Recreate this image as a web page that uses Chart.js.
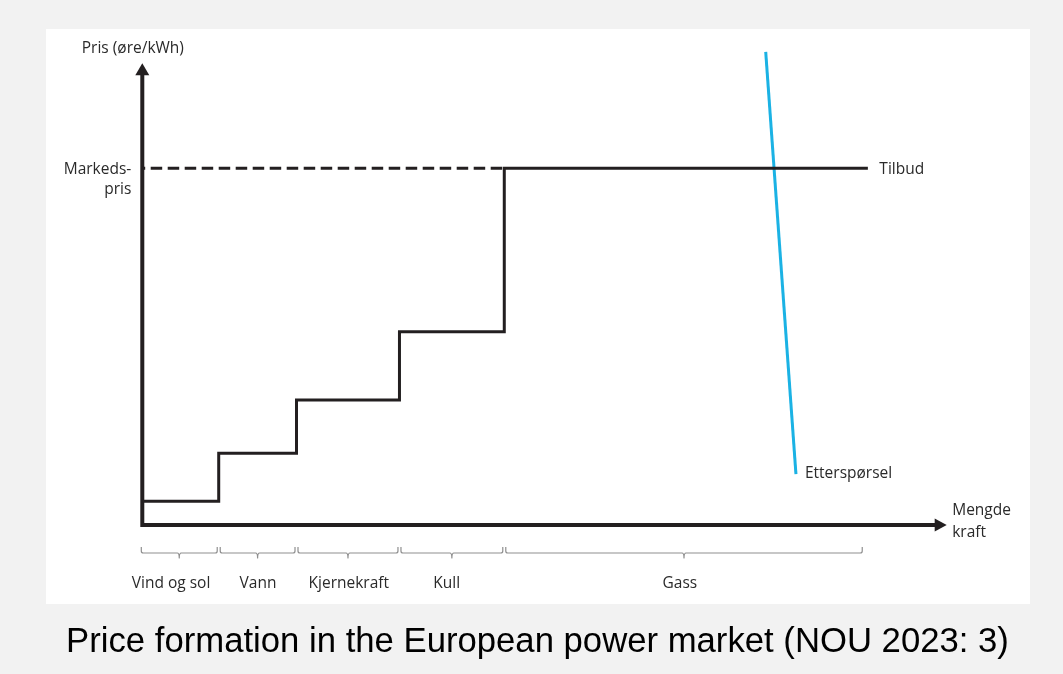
<!DOCTYPE html>
<html><head><meta charset="utf-8">
<script src="https://cdn.jsdelivr.net/npm/chart.js@4/dist/chart.umd.min.js"></script>
<style>
html,body{margin:0;padding:0;background:#f2f2f2;width:1063px;height:674px;overflow:hidden}
#panel{position:absolute;left:46px;top:29px;width:984px;height:575px;background:#fff}
#wrap{position:absolute;left:0;top:0;width:1063px;height:674px}
#caption{position:absolute;left:6px;width:1063px;top:620px;height:40px;line-height:40px;text-align:center;font-family:"Liberation Sans",Arial,sans-serif;font-size:34.7px;color:#000;white-space:nowrap}
</style></head><body>
<div id="panel"></div>
<div id="wrap"><canvas id="c" width="1063" height="674"></canvas></div>
<div id="caption">Price formation in the European power market (NOU 2023: 3)</div>
<script>
// ---- data (conceptual units: quantity 0..100, price 0..100) ----
const segments   = ["Vind og sol", "Vann", "Kjernekraft", "Kull", "Gass"];
const boundaries = [0, 9.5, 19.17, 31.97, 45.0, 89.5];   // capacity limits per technology
const prices     = [5.0, 15.1, 26.3, 40.7, 75.1];        // marginal cost per technology
const labelX     = [3.57, 14.38, 25.67, 37.84, 66.83];   // where each technology label sits
const supplyEnd  = 90.2;
const marketPrice = 75.1;
const demandX    = [77.5, 81.26];
const demandY    = [99.6, 10.7];
const axisMaxX   = 100;
const axisMaxY   = 97.2;

const ink  = '#231f20';
const blue = '#1bb2e4';
const txt  = '#2a2a2a';
const font = '15.5px "Open Sans", "Noto Sans", sans-serif';

const supplyPts = prices.map((p, i) => ({x: boundaries[i], y: p}));
supplyPts.push({x: supplyEnd, y: prices[prices.length - 1]});

const decor = {
  id: 'decor',
  beforeDatasetsDraw(chart) {
    const {ctx, scales: {x, y}} = chart;
    const X = v => x.getPixelForValue(v), Y = v => y.getPixelForValue(v);
    const ox = X(0), oy = Y(0), tx = X(axisMaxX), ty = Y(axisMaxY);
    ctx.save();
    ctx.strokeStyle = ink; ctx.lineWidth = 4; ctx.lineJoin = 'miter'; ctx.lineCap = 'butt';
    ctx.beginPath(); ctx.moveTo(ox, ty + 10); ctx.lineTo(ox, oy); ctx.lineTo(tx - 10, oy); ctx.stroke();
    ctx.fillStyle = ink;
    ctx.beginPath(); ctx.moveTo(ox, ty); ctx.lineTo(ox - 7, ty + 12); ctx.lineTo(ox + 7, ty + 12); ctx.closePath(); ctx.fill();
    ctx.beginPath(); ctx.moveTo(tx, oy); ctx.lineTo(tx - 12, oy - 6.5); ctx.lineTo(tx - 12, oy + 6.5); ctx.closePath(); ctx.fill();

    // brackets
    ctx.strokeStyle = '#8f8f8f'; ctx.lineWidth = 1.2; ctx.lineJoin = 'round';
    const yTop = oy + 22, yMid = oy + 28, yTip = oy + 33;
    for (let i = 0; i < segments.length; i++) {
      const x0 = X(boundaries[i]) + (i > 0 ? 1.5 : -1);
      const x1 = X(boundaries[i + 1]) - (i < segments.length - 1 ? 1.5 : 0);
      const xm = (x0 + x1) / 2;
      ctx.beginPath();
      ctx.moveTo(x0, yTop);
      ctx.lineTo(x0, yMid - 2); ctx.quadraticCurveTo(x0, yMid, x0 + 2, yMid);
      ctx.lineTo(xm - 2, yMid); ctx.quadraticCurveTo(xm, yMid, xm, yTip);
      ctx.quadraticCurveTo(xm, yMid, xm + 2, yMid);
      ctx.lineTo(x1 - 2, yMid); ctx.quadraticCurveTo(x1, yMid, x1, yMid - 2);
      ctx.lineTo(x1, yTop);
      ctx.stroke();
    }
    ctx.restore();
  },
  afterDatasetsDraw(chart) {
    const {ctx, scales: {x, y}} = chart;
    const X = v => x.getPixelForValue(v), Y = v => y.getPixelForValue(v);
    const ox = X(0), oy = Y(0), tx = X(axisMaxX);
    ctx.save();
    ctx.fillStyle = txt; ctx.font = font; ctx.textBaseline = 'alphabetic';
    // axis titles
    ctx.textAlign = 'left';
    ctx.fillText('Pris (øre/kWh)', ox - 60.5, 52.5);
    ctx.fillText('Mengde', tx + 5.5, oy - 10.5);
    ctx.fillText('kraft', tx + 5.5, oy + 12);
    // market price label
    ctx.textAlign = 'right';
    const py = Y(marketPrice);
    ctx.fillText('Markeds-', ox - 11, py + 6);
    ctx.fillText('pris', ox - 11, py + 26);
    // curve labels
    ctx.textAlign = 'left';
    ctx.fillText('Tilbud', X(supplyEnd) + 11.5, py + 6);
    ctx.fillText('Etterspørsel', X(demandX[1]) + 9, Y(demandY[1]) + 3.5);
    // technology labels
    ctx.textAlign = 'center';
    segments.forEach((s, i) => ctx.fillText(s, X(labelX[i]), oy + 62.5));
    ctx.restore();
  }
};

new Chart(document.getElementById('c'), {
  type: 'scatter',
  data: {
    datasets: [
      {label: 'Markedspris', data: [{x: 0, y: marketPrice}, {x: boundaries[4], y: marketPrice}],
       showLine: true, borderColor: ink, borderWidth: 3, borderDash: [11.5, 5.5], borderDashOffset: 8.6,
       pointRadius: 0, clip: false},
      {label: 'Tilbud', data: supplyPts, showLine: true, stepped: true,
       borderColor: ink, borderWidth: 3, borderJoinStyle: 'miter', borderCapStyle: 'butt',
       pointRadius: 0, clip: false},
      {label: 'Etterspørsel', data: demandX.map((v, i) => ({x: v, y: demandY[i]})), showLine: true,
       borderColor: blue, borderWidth: 3, pointRadius: 0, clip: false}
    ]
  },
  options: {
    responsive: false,
    animation: false,
    layout: {padding: {left: 142.3, right: 1063 - 946.7, top: 50, bottom: 674 - 525}},
    plugins: {legend: {display: false}, tooltip: {enabled: false}},
    scales: {
      x: {type: 'linear', min: 0, max: 100, display: false},
      y: {type: 'linear', min: 0, max: 100, display: false}
    }
  },
  plugins: [decor]
});
</script>
</body></html>
